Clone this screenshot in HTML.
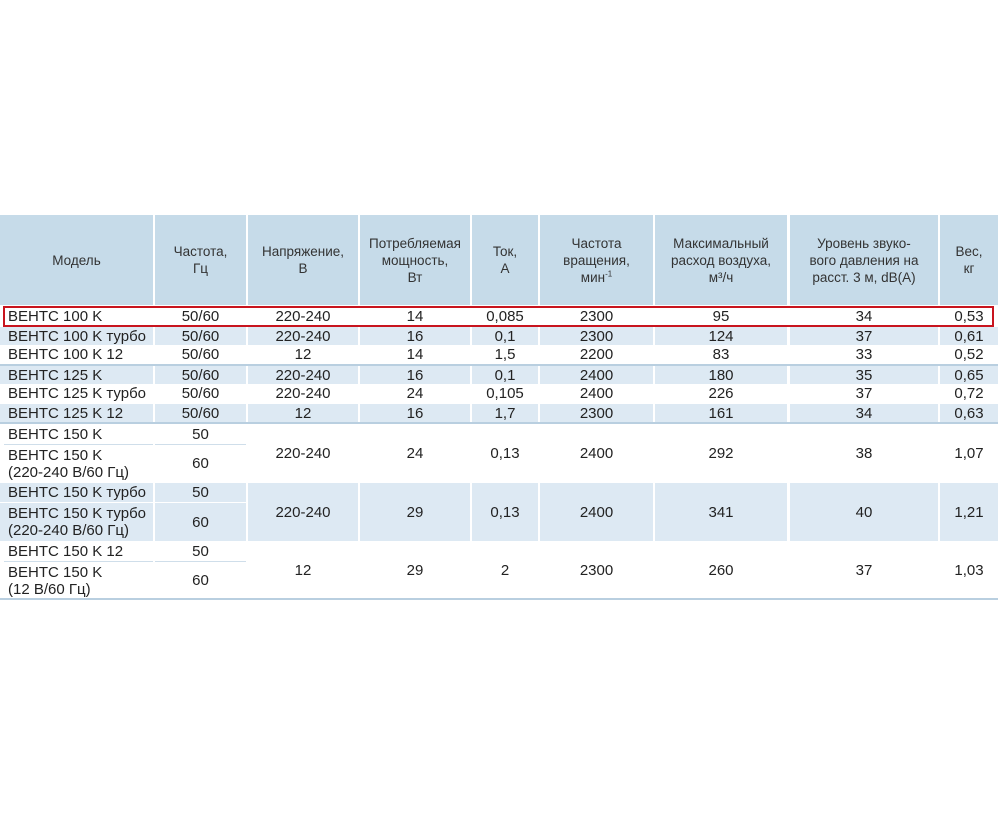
<!DOCTYPE html>
<html><head><meta charset="utf-8"><style>
body{margin:0;width:1000px;height:818px;background:#fff;position:relative;overflow:hidden;font-family:"Liberation Sans","DejaVu Sans",sans-serif;color:#2b2b2b}
.c{position:absolute;display:flex;align-items:center;justify-content:center;text-align:center;box-sizing:border-box;white-space:nowrap}
.h{background:#c6dbe9;font-size:13.5px;line-height:17px;color:#333}
.b{font-size:15px;line-height:17px;color:#222}
.l{justify-content:flex-start;padding-left:8px;text-align:left}
.bl{background:#dde9f3}
.ln{position:absolute;left:0;width:998px;height:2px;background:#b9cfe0}
sup{font-size:8px;line-height:0}
</style></head><body>
<div class="c h" style="left:0;top:215px;width:153px;height:90px"><span>Модель</span></div>
<div class="c h" style="left:155px;top:215px;width:91px;height:90px"><span>Частота,<br>Гц</span></div>
<div class="c h" style="left:248px;top:215px;width:110px;height:90px"><span>Напряжение,<br>В</span></div>
<div class="c h" style="left:360px;top:215px;width:110px;height:90px"><span>Потребляемая<br>мощность,<br>Вт</span></div>
<div class="c h" style="left:472px;top:215px;width:66px;height:90px"><span>Ток,<br>А</span></div>
<div class="c h" style="left:540px;top:215px;width:113px;height:90px"><span>Частота<br>вращения,<br>мин<sup>-1</sup></span></div>
<div class="c h" style="left:655px;top:215px;width:132px;height:90px"><span>Максимальный<br>расход воздуха,<br>м³/ч</span></div>
<div class="c h" style="left:790px;top:215px;width:148px;height:90px"><span>Уровень звуко-<br>вого давления на<br>расст. 3 м, dB(A)</span></div>
<div class="c h" style="left:940px;top:215px;width:58px;height:90px"><span>Вес,<br>кг</span></div>

<div class="c b l" style="left:0;top:307px;width:153px;height:19px">ВЕНТС 100 K</div>
<div class="c b" style="left:155px;top:307px;width:91px;height:19px">50/60</div>
<div class="c b" style="left:248px;top:307px;width:110px;height:19px">220-240</div>
<div class="c b" style="left:360px;top:307px;width:110px;height:19px">14</div>
<div class="c b" style="left:472px;top:307px;width:66px;height:19px">0,085</div>
<div class="c b" style="left:540px;top:307px;width:113px;height:19px">2300</div>
<div class="c b" style="left:655px;top:307px;width:132px;height:19px">95</div>
<div class="c b" style="left:790px;top:307px;width:148px;height:19px">34</div>
<div class="c b" style="left:940px;top:307px;width:58px;height:19px">0,53</div>

<div class="c b l bl" style="left:0;top:327px;width:153px;height:18px">ВЕНТС 100 K турбо</div>
<div class="c b bl" style="left:155px;top:327px;width:91px;height:18px">50/60</div>
<div class="c b bl" style="left:248px;top:327px;width:110px;height:18px">220-240</div>
<div class="c b bl" style="left:360px;top:327px;width:110px;height:18px">16</div>
<div class="c b bl" style="left:472px;top:327px;width:66px;height:18px">0,1</div>
<div class="c b bl" style="left:540px;top:327px;width:113px;height:18px">2300</div>
<div class="c b bl" style="left:655px;top:327px;width:132px;height:18px">124</div>
<div class="c b bl" style="left:790px;top:327px;width:148px;height:18px">37</div>
<div class="c b bl" style="left:940px;top:327px;width:58px;height:18px">0,61</div>

<div class="c b l" style="left:0;top:345px;width:153px;height:19px">ВЕНТС 100 K 12</div>
<div class="c b" style="left:155px;top:345px;width:91px;height:19px">50/60</div>
<div class="c b" style="left:248px;top:345px;width:110px;height:19px">12</div>
<div class="c b" style="left:360px;top:345px;width:110px;height:19px">14</div>
<div class="c b" style="left:472px;top:345px;width:66px;height:19px">1,5</div>
<div class="c b" style="left:540px;top:345px;width:113px;height:19px">2200</div>
<div class="c b" style="left:655px;top:345px;width:132px;height:19px">83</div>
<div class="c b" style="left:790px;top:345px;width:148px;height:19px">33</div>
<div class="c b" style="left:940px;top:345px;width:58px;height:19px">0,52</div>
<div class="ln" style="top:364px"></div>

<div class="c b l bl" style="left:0;top:366px;width:153px;height:18px">ВЕНТС 125 K</div>
<div class="c b bl" style="left:155px;top:366px;width:91px;height:18px">50/60</div>
<div class="c b bl" style="left:248px;top:366px;width:110px;height:18px">220-240</div>
<div class="c b bl" style="left:360px;top:366px;width:110px;height:18px">16</div>
<div class="c b bl" style="left:472px;top:366px;width:66px;height:18px">0,1</div>
<div class="c b bl" style="left:540px;top:366px;width:113px;height:18px">2400</div>
<div class="c b bl" style="left:655px;top:366px;width:132px;height:18px">180</div>
<div class="c b bl" style="left:790px;top:366px;width:148px;height:18px">35</div>
<div class="c b bl" style="left:940px;top:366px;width:58px;height:18px">0,65</div>

<div class="c b l" style="left:0;top:384px;width:153px;height:19px">ВЕНТС 125 K турбо</div>
<div class="c b" style="left:155px;top:384px;width:91px;height:19px">50/60</div>
<div class="c b" style="left:248px;top:384px;width:110px;height:19px">220-240</div>
<div class="c b" style="left:360px;top:384px;width:110px;height:19px">24</div>
<div class="c b" style="left:472px;top:384px;width:66px;height:19px">0,105</div>
<div class="c b" style="left:540px;top:384px;width:113px;height:19px">2400</div>
<div class="c b" style="left:655px;top:384px;width:132px;height:19px">226</div>
<div class="c b" style="left:790px;top:384px;width:148px;height:19px">37</div>
<div class="c b" style="left:940px;top:384px;width:58px;height:19px">0,72</div>

<div class="c b l bl" style="left:0;top:404px;width:153px;height:18px">ВЕНТС 125 K 12</div>
<div class="c b bl" style="left:155px;top:404px;width:91px;height:18px">50/60</div>
<div class="c b bl" style="left:248px;top:404px;width:110px;height:18px">12</div>
<div class="c b bl" style="left:360px;top:404px;width:110px;height:18px">16</div>
<div class="c b bl" style="left:472px;top:404px;width:66px;height:18px">1,7</div>
<div class="c b bl" style="left:540px;top:404px;width:113px;height:18px">2300</div>
<div class="c b bl" style="left:655px;top:404px;width:132px;height:18px">161</div>
<div class="c b bl" style="left:790px;top:404px;width:148px;height:18px">34</div>
<div class="c b bl" style="left:940px;top:404px;width:58px;height:18px">0,63</div>
<div class="ln" style="top:422px"></div>

<div class="c b l" style="left:0;top:424px;width:153px;height:20px">ВЕНТС 150 K</div>
<div class="c b" style="left:155px;top:424px;width:91px;height:20px">50</div>
<div style="position:absolute;left:4px;top:444px;width:149px;height:1px;background:#cfdeea"></div>
<div style="position:absolute;left:155px;top:444px;width:91px;height:1px;background:#cfdeea"></div>
<div class="c b l" style="left:0;top:445px;width:153px;height:37px"><span>ВЕНТС 150 K<br>(220-240 В/60 Гц)</span></div>
<div class="c b" style="left:155px;top:445px;width:91px;height:37px">60</div>
<div class="c b" style="left:248px;top:424px;width:110px;height:59px">220-240</div>
<div class="c b" style="left:360px;top:424px;width:110px;height:59px">24</div>
<div class="c b" style="left:472px;top:424px;width:66px;height:59px">0,13</div>
<div class="c b" style="left:540px;top:424px;width:113px;height:59px">2400</div>
<div class="c b" style="left:655px;top:424px;width:132px;height:59px">292</div>
<div class="c b" style="left:790px;top:424px;width:148px;height:59px">38</div>
<div class="c b" style="left:940px;top:424px;width:58px;height:59px">1,07</div>

<div class="c b l bl" style="left:0;top:483px;width:153px;height:19px">ВЕНТС 150 K турбо</div>
<div class="c b bl" style="left:155px;top:483px;width:91px;height:19px">50</div>
<div class="c b l bl" style="left:0;top:503px;width:153px;height:38px"><span>ВЕНТС 150 K турбо<br>(220-240 В/60 Гц)</span></div>
<div class="c b bl" style="left:155px;top:503px;width:91px;height:38px">60</div>
<div class="c b bl" style="left:248px;top:483px;width:110px;height:58px">220-240</div>
<div class="c b bl" style="left:360px;top:483px;width:110px;height:58px">29</div>
<div class="c b bl" style="left:472px;top:483px;width:66px;height:58px">0,13</div>
<div class="c b bl" style="left:540px;top:483px;width:113px;height:58px">2400</div>
<div class="c b bl" style="left:655px;top:483px;width:132px;height:58px">341</div>
<div class="c b bl" style="left:790px;top:483px;width:148px;height:58px">40</div>
<div class="c b bl" style="left:940px;top:483px;width:58px;height:58px">1,21</div>

<div class="c b l" style="left:0;top:542px;width:153px;height:19px">ВЕНТС 150 K 12</div>
<div class="c b" style="left:155px;top:542px;width:91px;height:19px">50</div>
<div style="position:absolute;left:4px;top:561px;width:149px;height:1px;background:#cfdeea"></div>
<div style="position:absolute;left:155px;top:561px;width:91px;height:1px;background:#cfdeea"></div>
<div class="c b l" style="left:0;top:562px;width:153px;height:37px"><span>ВЕНТС 150 K<br>(12 В/60 Гц)</span></div>
<div class="c b" style="left:155px;top:562px;width:91px;height:37px">60</div>
<div class="c b" style="left:248px;top:541px;width:110px;height:58px">12</div>
<div class="c b" style="left:360px;top:541px;width:110px;height:58px">29</div>
<div class="c b" style="left:472px;top:541px;width:66px;height:58px">2</div>
<div class="c b" style="left:540px;top:541px;width:113px;height:58px">2300</div>
<div class="c b" style="left:655px;top:541px;width:132px;height:58px">260</div>
<div class="c b" style="left:790px;top:541px;width:148px;height:58px">37</div>
<div class="c b" style="left:940px;top:541px;width:58px;height:58px">1,03</div>
<div class="ln" style="top:598px"></div>

<div style="position:absolute;left:3px;top:306px;width:987px;height:17px;border:2px solid #c8141e"></div>
</body></html>
